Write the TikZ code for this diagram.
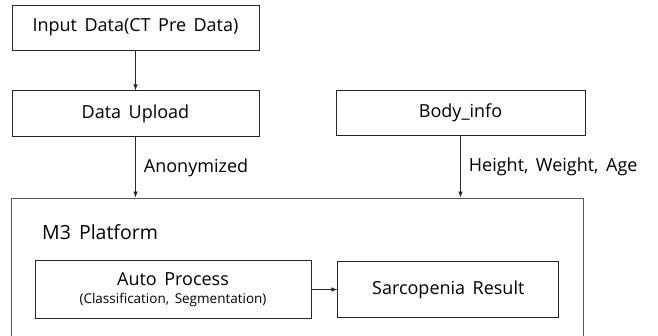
\documentclass[tikz,border=0pt]{standalone}
\usepackage{fontspec}
\setmainfont[WordSpace=1.6]{Open Sans}
\usetikzlibrary{positioning, arrows.meta}

\begin{document}
\begin{tikzpicture}[
          x=1pt, y=-1pt,
          box/.style={rectangle, draw=black!85, line width=0.8pt, align=center, inner sep=0pt, font=\fontsize{18}{21}\selectfont}, % plain boxes
          note/.style={right=8pt, inner sep=0pt, font=\fontsize{18}{21}\selectfont},
          flow/.style={draw=black!85, line width=0.8pt, -{Latex[length=6pt, width=4.5pt]}}
        ]
        \useasboundingbox (0,0) rectangle (658,336);
        \clip (0,0) rectangle (658,336);
        % top row
        \node[box, minimum width=247pt, minimum height=45pt] (input) at (135.5,27.5) {Input Data(CT Pre Data)};
        \node[box, minimum width=247pt, minimum height=46pt, below=40pt of input] (upload) {Data Upload};
        \node[box, minimum width=249pt, minimum height=45pt] (body) at (460.5,112.5) {Body\_info};
        % platform, runs past the bottom edge
        \node[box, draw=black!65, minimum width=572pt, minimum height=170pt] (platform) at (297,283) {};
        \node[anchor=west, inner sep=0pt, font=\fontsize{19.5}{22}\selectfont] (title) at (42,232) {M3 Platform};
        \node[box, minimum width=276pt, minimum height=58pt] (auto) at (173,289.5) {Auto Process\\[-3pt]{\fontsize{13.5}{16}\selectfont (Classification, Segmentation)}};
        \node[box, minimum width=221pt, minimum height=56pt, right=26pt of auto] (result) {Sarcopenia Result};
        % connectors
        \draw[flow] (input) -- (upload);
        \draw[flow] (upload) -- (upload |- platform.north) node[midway, note] {Anonymized};
        \draw[flow] (body) -- (body |- platform.north) node[midway, note] {Height, Weight, Age};
        \draw[flow] (auto) -- (result);
\end{tikzpicture}
\end{document}
